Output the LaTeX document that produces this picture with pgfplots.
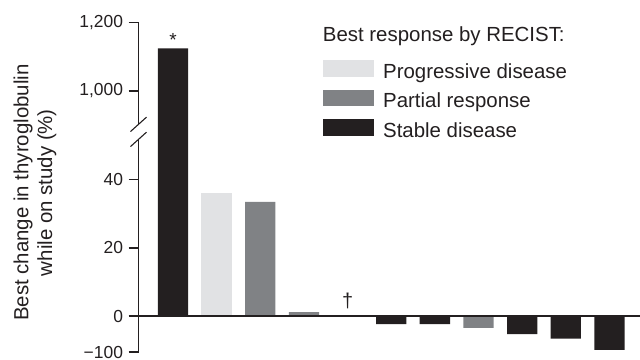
\documentclass[border=0pt]{standalone}
\usepackage{pgfplots}
\pgfplotsset{compat=1.18}
\usepackage{fontspec}
\setmainfont{Liberation Sans}
\definecolor{sdblack}{HTML}{231F20}
\definecolor{prgray}{HTML}{808285}
\definecolor{pdlight}{HTML}{E1E2E4}
\begin{document}
\begin{tikzpicture}
\path[use as bounding box] (0,0) rectangle (640bp,360bp);
\begin{axis}[
  at={(138.5bp,8bp)}, anchor=south west,
  scale only axis, width=501.5bp, height=329.3bp,
  xmin=0.21, xmax=11.70,
  ymin=-100, ymax=1200,
  y coord trafo/.code={\pgfmathparse{#1<0 ? 0.1051*#1 : (#1>500 ? 65.99+0.1*(#1-1000) : #1)}},
  axis x line=none,
  axis y line*=left,
  y axis line style={draw=none},
  ytick={-100,0,20,40,1000,1200},
  yticklabels={−100,0,20,40,{1,000},{1,200}},
  ytick pos=left,
  tick align=outside,
  major tick length=10bp,
  ytick style={draw=sdblack, line width=1.3bp},
  yticklabel style={font=\fontsize{17.5}{19}\selectfont, text=sdblack, xshift=-2bp},
  ybar, bar shift=0pt, bar width=0.694,
  clip=false,
  ylabel={Best change in thyroglobulin\\while on study (\%)},
  ylabel style={align=center, font=\fontsize{20.5}{24}\selectfont, text=sdblack,
    at={(axis description cs:-0.2064,0.484)}, anchor=center, rotate=0},
  legend style={at={(0.367,0.8865)}, anchor=north west, draw=none, fill=none,
    inner sep=0pt, outer sep=0pt, row sep=6.2bp,
    font=\fontsize{20.5}{24}\selectfont, text=sdblack,
    cells={anchor=base west},
    nodes={inner sep=0pt, anchor=base west, text height=15bp, text depth=5bp},
    /tikz/every odd column/.append style={column sep=9.6bp}},
  legend image code/.code={\fill[#1] (0bp,1.6bp) rectangle (51bp,18.3bp);},
]
\addplot[fill=pdlight, draw=none] coordinates {(2,36.2)};
\addplot[fill=prgray, draw=none] coordinates {(3,33.5) (4,1.2) (8,-33)};
\addplot[fill=sdblack, draw=none] coordinates {(1,1124.5) (6,-22) (7,-22) (9,-50) (10,-63) (11,-94)};
\legend{Progressive disease, Partial response, Stable disease}
\draw[line width=1.3bp, sdblack] (axis cs:0.21,-100) -- (axis cs:0.21,51.8);
\draw[line width=1.3bp, sdblack] (axis cs:0.21,56.2) -- (axis cs:0.21,1200);
\draw[line width=1.1bp, sdblack] (axis cs:0.21,51.8) ++(-8bp,-7.2bp) -- ++(16bp,14.4bp);
\draw[line width=1.1bp, sdblack] (axis cs:0.21,56.2) ++(-8bp,-7.2bp) -- ++(16bp,14.4bp);
\draw[line width=1.3bp, sdblack] (axis cs:0.21,0) -- (axis cs:11.70,0);
\node[anchor=base, inner sep=0pt, font=\fontsize{19}{19}\selectfont, text=sdblack, yshift=1.5bp] at (axis cs:1,1124.5) {*};
\node[anchor=base, inner sep=0pt, font=\fontsize{20}{20}\selectfont, text=sdblack, yshift=9bp] at (axis cs:5,0) {†};
\end{axis}
\node[anchor=base west, inner sep=0pt, font=\fontsize{20.5}{24}\selectfont, text=sdblack] at (322.7bp,318.3bp) {Best response by RECIST:};
\end{tikzpicture}
\end{document}
